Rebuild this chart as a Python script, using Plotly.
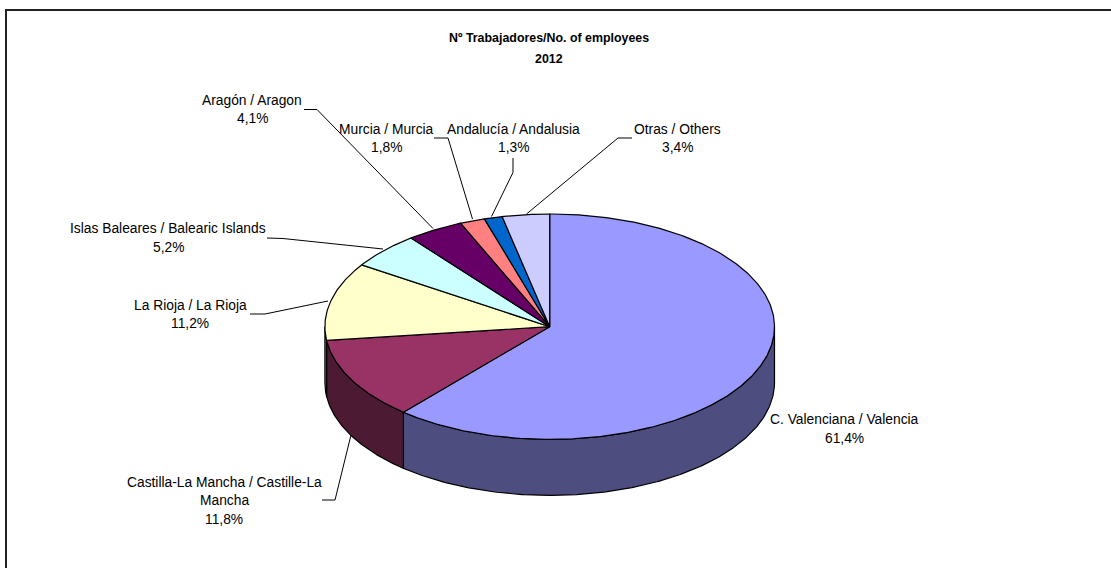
import math
import plotly.graph_objects as go

# ---- data ----
categories = ["C. Valenciana / Valencia", "Castilla-La Mancha / Castille-La Mancha", "La Rioja / La Rioja",
              "Islas Baleares / Balearic Islands", "Aragón / Aragon", "Murcia / Murcia",
              "Andalucía / Andalusia", "Otras / Others"]
values = [61.4, 11.8, 11.2, 5.2, 4.1, 1.8, 1.3, 3.4]
label_lines = [["C. Valenciana / Valencia", "61,4%"],
               ["Castilla-La Mancha / Castille-La", "Mancha", "11,8%"],
               ["La Rioja / La Rioja", "11,2%"],
               ["Islas Baleares / Balearic Islands", "5,2%"],
               ["Aragón / Aragon", "4,1%"],
               ["Murcia / Murcia", "1,8%"],
               ["Andalucía / Andalusia", "1,3%"],
               ["Otras / Others", "3,4%"]]
title_lines = ["Nº Trabajadores/No. of employees", "2012"]

# ---- style and layout ----
top_colors = ["#9999FF", "#993366", "#FFFFCC", "#CCFFFF", "#660066", "#FF8080", "#0066CC", "#CCCCFF"]
side_colors = ["#4D4D80", "#4D1A33", "#808066", "#668080", "#330033", "#804040", "#003366", "#666680"]
CX, CY, RX, RY, DEPTH = 549.7, 326.7, 224.8, 112.7, 56
FONT = "Liberation Sans"
LABEL_SIZE = 13.8
TITLE_SIZE = 12.4
label_pos = [(844, [419, 438]), (224, [482, 500, 519]), (190, [305, 323]), (168, [228, 247]),
             (252, [100, 118]), (386, [129, 147]), (513, [129, 147]), (677, [129, 147])]
leaders = [None,
           [(322, 500), (335, 500), (351, 435)],
           [(250, 314), (265, 314), (328, 301)],
           [(267, 238), (283, 238.5), (383, 249)],
           [(304, 109.5), (317, 109.5), (433, 228.5)],
           [(434, 138), (448, 138), (472.5, 219)],
           [(513, 158), (513, 172.5), (491.5, 216.5)],
           [(632, 138), (618, 138), (526.5, 214)]]


def point(deg, dy=0.0):
    a = math.radians(deg)
    return CX + RX * math.sin(a), CY - RY * math.cos(a) + dy


def arc(a0, a1, dy=0.0):
    n = max(2, int(abs(a1 - a0) * 2))
    return [point(a0 + (a1 - a0) * i / n, dy) for i in range(n + 1)]


fig = go.Figure()
total = sum(values)
edges = [0.0]
for v in values:
    edges.append(edges[-1] + v / total * 360)

# rim of the disc
for i, name in enumerate(categories):
    a0, a1 = max(edges[i], 90), min(edges[i + 1], 270)
    if a0 < a1:
        pts = arc(a0, a1) + arc(a1, a0, DEPTH)
        pts.append(pts[0])
        fig.add_trace(go.Scatter(x=[p[0] for p in pts], y=[p[1] for p in pts], mode="lines", fill="toself",
                                 fillcolor=side_colors[i], line=dict(color="#000000", width=1.2),
                                 name=name, hoverinfo="skip"))

# top face
for i, name in enumerate(categories):
    pts = [(CX, CY)] + arc(edges[i], edges[i + 1]) + [(CX, CY)]
    fig.add_trace(go.Scatter(x=[p[0] for p in pts], y=[p[1] for p in pts], mode="lines", fill="toself",
                             fillcolor=top_colors[i], line=dict(color="#000000", width=1.2),
                             name=name, hoverinfo="skip"))

annotations = []
for lines, (x, ys) in zip(label_lines, label_pos):
    for text, y in zip(lines, ys):
        annotations.append(dict(x=x, y=y, text=text, showarrow=False, xanchor="center", yanchor="middle",
                                font=dict(family=FONT, size=LABEL_SIZE, color="#000000")))
for text, y in zip(title_lines, [38, 59]):
    annotations.append(dict(x=549, y=y, text="<b>%s</b>" % text, showarrow=False, xanchor="center",
                            yanchor="middle", font=dict(family=FONT, size=TITLE_SIZE, color="#000000")))

shapes = [dict(type="line", x0=6, y0=10, x1=1111, y1=10, line=dict(color="#222222", width=2)),
          dict(type="line", x0=6, y0=9, x1=6, y1=568, line=dict(color="#222222", width=2))]
for path in leaders:
    if path:
        for (x0, y0), (x1, y1) in zip(path, path[1:]):
            shapes.append(dict(type="line", x0=x0, y0=y0, x1=x1, y1=y1, line=dict(color="#000000", width=1)))

fig.update_layout(width=1111, height=568, margin=dict(l=0, r=0, t=0, b=0), showlegend=False,
                  paper_bgcolor="#FFFFFF", plot_bgcolor="#FFFFFF",
                  xaxis=dict(range=[0, 1111], visible=False, fixedrange=True),
                  yaxis=dict(range=[568, 0], visible=False, fixedrange=True),
                  annotations=annotations, shapes=shapes)
fig.write_html("out.html", config=dict(displayModeBar=False),
               post_script="document.body.style.margin='0';document.body.style.overflow='hidden';")
